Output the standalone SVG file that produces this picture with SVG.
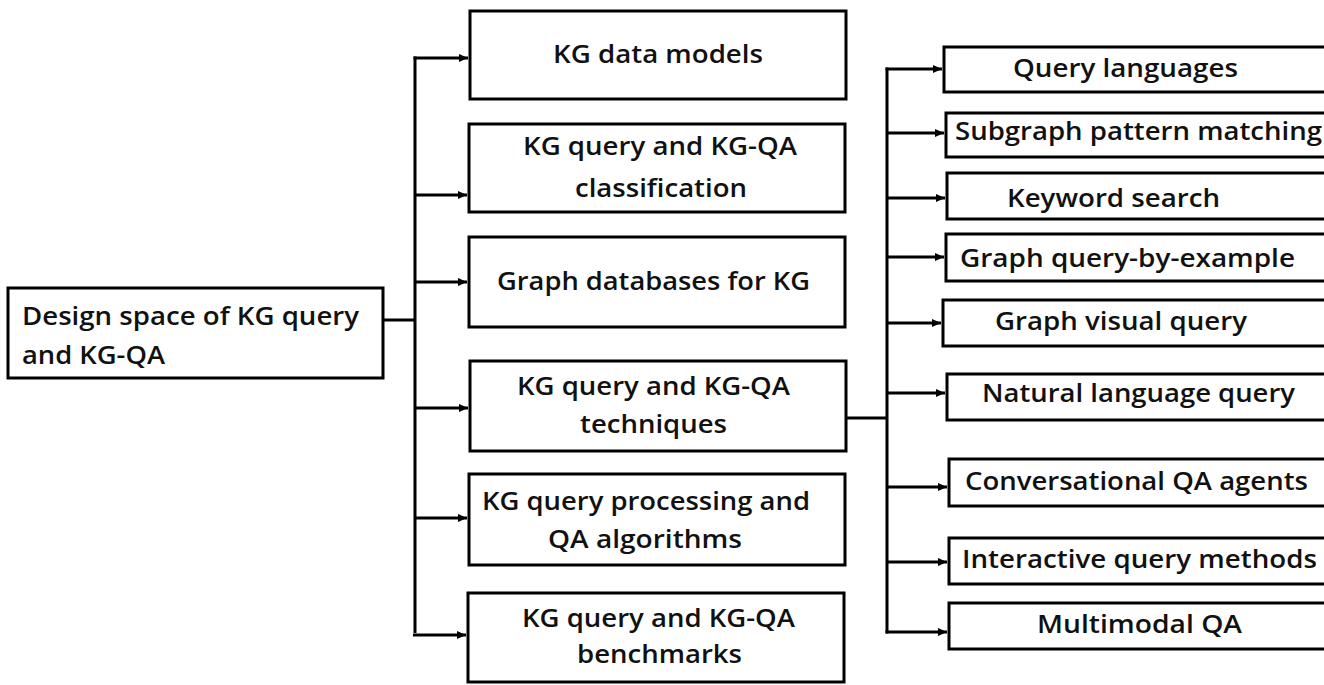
<svg xmlns="http://www.w3.org/2000/svg" width="1324" height="685" viewBox="0 0 1324 685">
<style>
.box{fill:#fff;stroke:#000;stroke-width:3}
.t{font-family:"Open Sans","Liberation Sans",sans-serif;font-weight:600;font-size:25px;fill:#111}
.c{fill:none;stroke:#000;stroke-width:3}
</style>
<defs>
<marker id="ah" markerUnits="userSpaceOnUse" markerWidth="10" markerHeight="10" refX="9" refY="4" orient="auto">
<path d="M0,0 L9,4 L0,8 z" fill="#000"/>
</marker>
</defs>
<rect width="1324" height="685" fill="#fff"/>
<g id="connectors">
<line class="c" x1="383" y1="320" x2="415" y2="320"/>
<line class="c" x1="415" y1="56.5" x2="415" y2="633"/>
<line class="c" x1="413.5" y1="58" x2="468" y2="58" marker-end="url(#ah)"/>
<line class="c" x1="415" y1="195" x2="467" y2="195" marker-end="url(#ah)"/>
<line class="c" x1="415" y1="282" x2="467" y2="282" marker-end="url(#ah)"/>
<line class="c" x1="415" y1="408" x2="468" y2="408" marker-end="url(#ah)"/>
<line class="c" x1="415" y1="518" x2="467" y2="518" marker-end="url(#ah)"/>
<line class="c" x1="413" y1="635" x2="466" y2="635" marker-end="url(#ah)"/>
<line class="c" x1="846" y1="418" x2="887" y2="418"/>
<line class="c" x1="887" y1="67.5" x2="887" y2="633.5"/>
<line class="c" x1="885.5" y1="69" x2="942" y2="69" marker-end="url(#ah)"/>
<line class="c" x1="887" y1="133" x2="944" y2="133" marker-end="url(#ah)"/>
<line class="c" x1="887" y1="198" x2="945" y2="198" marker-end="url(#ah)"/>
<line class="c" x1="887" y1="257" x2="944" y2="257" marker-end="url(#ah)"/>
<line class="c" x1="887" y1="323" x2="941" y2="323" marker-end="url(#ah)"/>
<line class="c" x1="887" y1="393" x2="945" y2="393" marker-end="url(#ah)"/>
<line class="c" x1="887" y1="487" x2="947" y2="487" marker-end="url(#ah)"/>
<line class="c" x1="887" y1="562" x2="947" y2="562" marker-end="url(#ah)"/>
<line class="c" x1="885.5" y1="632" x2="947" y2="632" marker-end="url(#ah)"/>
</g>
<g id="root"><rect class="box" x="8" y="288" width="375" height="90"/>
<text class="t" x="22" y="325" textLength="337" lengthAdjust="spacingAndGlyphs">Design space of KG query</text>
<text class="t" x="22" y="364" textLength="143" lengthAdjust="spacingAndGlyphs">and KG-QA</text></g>
<g id="m1"><rect class="box" x="470" y="11" width="376" height="88"/>
<text class="t" x="553" y="63" textLength="210" lengthAdjust="spacingAndGlyphs">KG data models</text></g>
<g id="m2"><rect class="box" x="469" y="124" width="376" height="88"/>
<text class="t" x="523" y="155" textLength="274" lengthAdjust="spacingAndGlyphs">KG query and KG-QA</text>
<text class="t" x="575" y="197" textLength="172" lengthAdjust="spacingAndGlyphs">classification</text></g>
<g id="m3"><rect class="box" x="469" y="237" width="376" height="90"/>
<text class="t" x="497" y="290" textLength="313" lengthAdjust="spacingAndGlyphs">Graph databases for KG</text></g>
<g id="m4"><rect class="box" x="470" y="361" width="376" height="90"/>
<text class="t" x="517" y="395" textLength="273" lengthAdjust="spacingAndGlyphs">KG query and KG-QA</text>
<text class="t" x="580" y="433" textLength="147" lengthAdjust="spacingAndGlyphs">techniques</text></g>
<g id="m5"><rect class="box" x="469" y="474" width="376" height="91"/>
<text class="t" x="482" y="510" textLength="328" lengthAdjust="spacingAndGlyphs">KG query processing and</text>
<text class="t" x="548" y="548" textLength="194" lengthAdjust="spacingAndGlyphs">QA algorithms</text></g>
<g id="m6"><rect class="box" x="468" y="593" width="376" height="89"/>
<text class="t" x="522" y="627" textLength="273" lengthAdjust="spacingAndGlyphs">KG query and KG-QA</text>
<text class="t" x="577" y="663" textLength="165" lengthAdjust="spacingAndGlyphs">benchmarks</text></g>
<g id="r1"><rect class="box" x="944" y="47" width="400" height="45"/>
<text class="t" x="1013" y="77" textLength="225" lengthAdjust="spacingAndGlyphs">Query languages</text></g>
<g id="r2"><rect class="box" x="946" y="113" width="400" height="44"/>
<text class="t" x="955" y="140" textLength="367" lengthAdjust="spacingAndGlyphs">Subgraph pattern matching</text></g>
<g id="r3"><rect class="box" x="947" y="173" width="400" height="46"/>
<text class="t" x="1007" y="207" textLength="213" lengthAdjust="spacingAndGlyphs">Keyword search</text></g>
<g id="r4"><rect class="box" x="946" y="234" width="400" height="47"/>
<text class="t" x="960" y="267" textLength="335" lengthAdjust="spacingAndGlyphs">Graph query-by-example</text></g>
<g id="r5"><rect class="box" x="943" y="300" width="400" height="46"/>
<text class="t" x="995" y="330" textLength="252" lengthAdjust="spacingAndGlyphs">Graph visual query</text></g>
<g id="r6"><rect class="box" x="947" y="374" width="400" height="46"/>
<text class="t" x="982" y="402" textLength="313" lengthAdjust="spacingAndGlyphs">Natural language query</text></g>
<g id="r7"><rect class="box" x="949" y="459" width="400" height="47"/>
<text class="t" x="965" y="490" textLength="343" lengthAdjust="spacingAndGlyphs">Conversational QA agents</text></g>
<g id="r8"><rect class="box" x="949" y="538" width="400" height="46"/>
<text class="t" x="962" y="568" textLength="355" lengthAdjust="spacingAndGlyphs">Interactive query methods</text></g>
<g id="r9"><rect class="box" x="949" y="603" width="400" height="46"/>
<text class="t" x="1037" y="633" textLength="205" lengthAdjust="spacingAndGlyphs">Multimodal QA</text></g>
</svg>
